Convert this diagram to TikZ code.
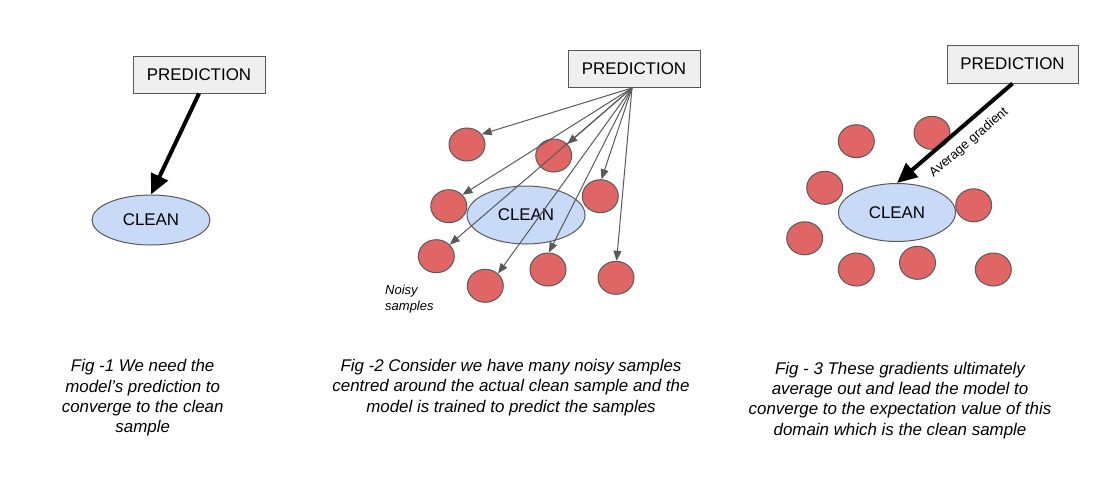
\documentclass[tikz,border=0pt]{standalone}
\usepackage{fontspec}
\setmainfont{Liberation Sans}
\usetikzlibrary{shapes.geometric,arrows.meta}
\definecolor{boxfill}{HTML}{EFEFEF}
\definecolor{edgegray}{HTML}{595959}
\definecolor{cleanfill}{HTML}{C9DAF8}
\definecolor{noisefill}{HTML}{E06666}
\begin{document}
\begin{tikzpicture}[x=1pt,y=-1pt,
  predbox/.style={draw=edgegray, fill=boxfill, line width=1pt, minimum width=132pt, minimum height=37pt, inner sep=0pt, font=\fontsize{16.9}{20}\selectfont},
  cleannode/.style={ellipse, draw=edgegray, fill=cleanfill, line width=1pt, inner sep=0pt, font=\fontsize{16.9}{20}\selectfont},
  noisy/.style={ellipse, draw=edgegray, fill=noisefill, line width=1pt, minimum width=36pt, minimum height=33pt, inner sep=0pt},
  bigarrow/.style={line width=4pt, -{Triangle[length=20pt,width=18pt]}},
  thinarrow/.style={draw=edgegray, line width=1pt, -{Triangle[length=10pt,width=8pt]}},
  caption/.style={align=center, inner sep=0pt, font=\fontsize{16.9}{20.3}\selectfont\itshape}
]
\useasboundingbox (0,0) rectangle (1104,488);

% ---------- Fig 1 ----------
\node[predbox] (p1) at (199,74.5) {PREDICTION};
\node[cleannode, minimum width=118pt, minimum height=50pt] (clean1) at (151,220) {CLEAN};
\draw[bigarrow] (p1.south) -- (clean1.north);
\node[caption] (cap1) at (142.7,397.9) {Fig -1 We need the\\model’s prediction to\\converge to the clean\\sample};

% ---------- Fig 2 ----------
\node[predbox] (p2) at (634,69) {PREDICTION};
\node[noisy] (c1) at (467,144.5) {};
\node[noisy] (c2) at (553.7,155.5) {};
\node[noisy] (c3) at (600.3,196.2) {};
\node[noisy] (c4) at (448.8,206.2) {};
\node[noisy] (c5) at (436.3,256.2) {};
\node[noisy] (c6) at (485.3,285.8) {};
\node[noisy] (c7) at (548,269.5) {};
\node[noisy] (c8) at (616,277.8) {};
\node[cleannode, minimum width=118pt, minimum height=58pt] (clean2) at (526,215) {CLEAN};
\coordinate (o2) at (632,88);
\draw[thinarrow] (o2) -- (c1.35);
\draw[thinarrow] (o2) -- (c2.40);
\draw[thinarrow] (o2) -- (c3.86);
\draw[thinarrow] (o2) -- (c4.40);
\draw[thinarrow] (o2) -- (c5.41);
\draw[thinarrow] (o2) -- (c6.44);
\draw[thinarrow] (o2) -- (c7.87);
\draw[thinarrow] (o2) -- (c8.88);
\node[anchor=west, align=left, inner sep=0pt, font=\fontsize{13}{16.4}\selectfont\itshape] (noisylbl) at (385,299.2) {Noisy\\samples};
\node[caption] (cap2) at (511,387.4) {Fig -2 Consider we have many noisy samples\\centred around the actual clean sample and the\\model is trained to predict the samples};

% ---------- Fig 3 ----------
\node[predbox, minimum width=131pt, minimum height=38pt] (p3) at (1012.5,64) {PREDICTION};
\node[noisy] (f1) at (856.3,141.2) {};
\node[noisy] (f2) at (932,132.8) {};
\node[noisy] (f3) at (824.7,187.8) {};
\node[noisy] (f4) at (973.7,205.3) {};
\node[noisy] (f5) at (804.7,238.3) {};
\node[noisy] (f6) at (856.3,269.5) {};
\node[noisy] (f7) at (917.5,262.8) {};
\node[noisy] (f8) at (993.3,269.5) {};
\node[cleannode, minimum width=117pt, minimum height=58pt] (clean3) at (897,212.5) {CLEAN};
\draw[bigarrow] (p3.south) -- node[pos=0.47, sloped, below=5pt, font=\fontsize{13}{15}\selectfont] (avglbl) {Average gradient} (clean3.north);
\node[caption] (cap3) at (900,400.4) {Fig - 3 These gradients ultimately\\average out and lead the model to\\converge to the expectation value of this\\domain which is the clean sample};
\end{tikzpicture}
\end{document}
